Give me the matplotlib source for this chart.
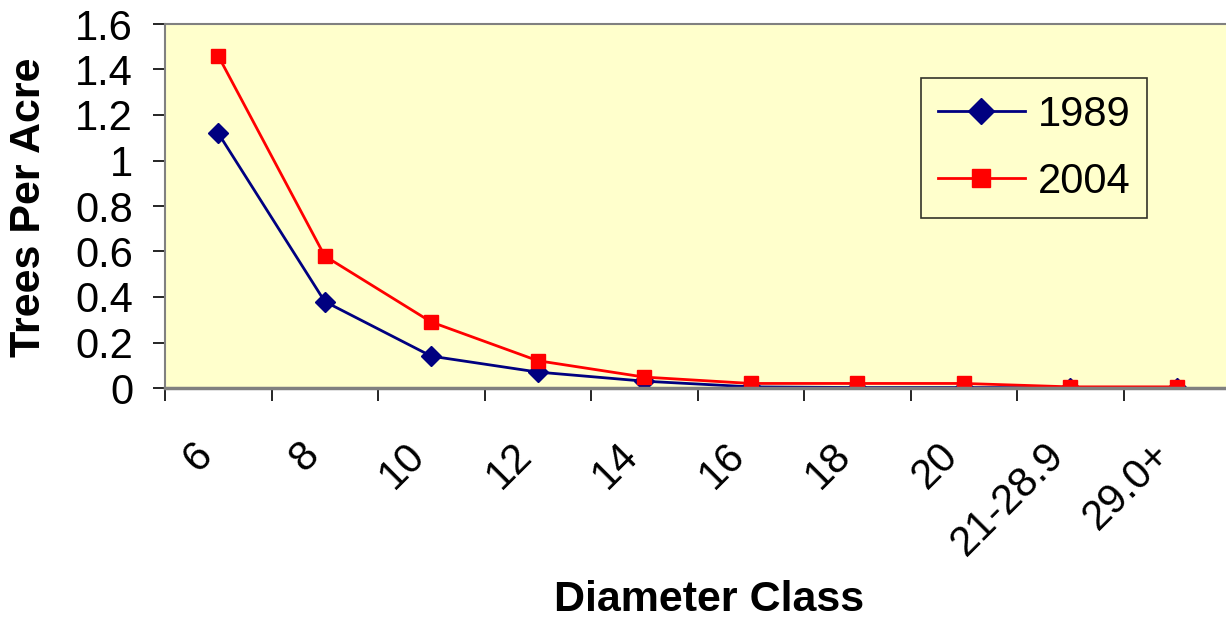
import numpy as np
import matplotlib
matplotlib.use('Agg')
import matplotlib.pyplot as plt
import matplotlib.transforms as mtransforms

plt.rcParams['font.family'] = ['Liberation Sans', 'DejaVu Sans']

classes = ['6', '8', '10', '12', '14', '16', '18', '20', '21-28.9', '29.0+']
tpa_1989 = [1.12, 0.38, 0.14, 0.07, 0.03, 0.005, 0.002, 0.002, 0.001, 0.001]
tpa_2004 = [1.46, 0.58, 0.29, 0.12, 0.048, 0.02, 0.02, 0.02, 0.005, 0.005]

fig = plt.figure(figsize=(12.26, 6.22), dpi=100)
W, H = 1226, 622
ax = fig.add_axes([165/W, 1-388/H, 1065/W, (388-24)/H])
ax.set_facecolor('#FFFFCC')

x = np.arange(len(classes))
ax.plot(x, tpa_1989, color='#000080', marker='D', markersize=10, lw=2, label='1989')
ax.plot(x, tpa_2004, color='#FF0000', marker='s', markersize=10.5, lw=2, label='2004')

ax.set_xlim(-0.5, len(classes)-0.5)
ax.set_ylim(0, 1.6)
ax.set_yticks(np.arange(0, 1.61, 0.2))
ax.set_yticklabels(['0', '0.2', '0.4', '0.6', '0.8', '1', '1.2', '1.4', '1.6'], fontsize=30)
ax.set_xticks(np.arange(-0.5, len(classes), 1))
ax.set_xticklabels([])
ax.set_xticks(x, minor=True)
ax.set_xticklabels(classes, minor=True, rotation=45, ha='right', va='center',
                   rotation_mode='anchor', fontsize=30)
ax.tick_params(axis='x', which='minor', length=0, pad=44)
ax.tick_params(axis='x', which='major', length=9, direction='out', width=1.2)
ax.tick_params(axis='y', length=9, width=1.2, pad=14)

# nudge the rotated labels a little to the left
shift = mtransforms.ScaledTranslation(-12/100, 0, fig.dpi_scale_trans)
for lab in ax.get_xticklabels(minor=True):
    lab.set_transform(lab.get_transform() + shift)

for s in ['top', 'right']:
    ax.spines[s].set_visible(True)
    ax.spines[s].set_color('#808080')
ax.spines['left'].set_color('#808080')
ax.spines['bottom'].set_color('#808080')
ax.spines['bottom'].set_linewidth(2.5)
ax.spines['left'].set_linewidth(1.5)
ax.spines['top'].set_linewidth(1.5)

fig.text(29/W, 1-207/H, 'Trees Per Acre', fontsize=31, fontweight='bold',
         rotation=90, ha='center', va='center')
fig.text(709/W, 1-600/H, 'Diameter Class', fontsize=31, fontweight='bold', ha='center', va='center')

leg = ax.legend(loc='upper left', bbox_to_anchor=((921-165)/1065, 1-(78-24)/364),
                fontsize=30, frameon=True, fancybox=False, edgecolor='black',
                facecolor='#FFFFCC', handlelength=2.1, handletextpad=0.3,
                borderpad=0.4, borderaxespad=0, labelspacing=0.65, markerscale=1.3)
leg.get_frame().set_linewidth(1.2)

fig.savefig('out.png', dpi=100)
